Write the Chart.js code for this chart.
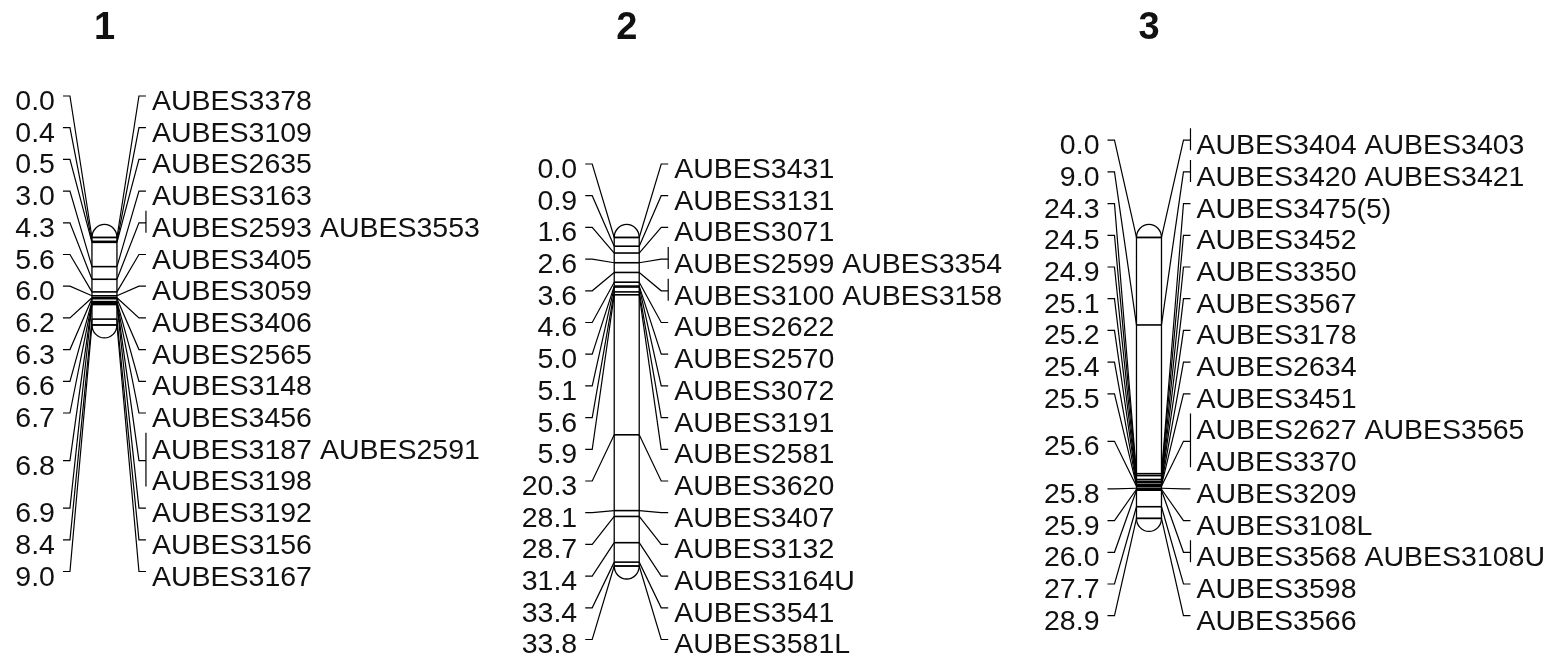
<!DOCTYPE html>
<html>
<head>
<meta charset="utf-8">
<script src="https://cdn.jsdelivr.net/npm/chart.js@4"></script>
<style>
  html, body { margin: 0; padding: 0; background: #fff; }
  canvas { display: block; }
</style>
</head>
<body>
<canvas id="mapChart" width="1560" height="657"></canvas>
<script>
// Linkage group names
const groupNames = ['1', '2', '3'];

// Group 1: locus positions (cM) and markers at each locus
const g1Positions = [0.0, 0.4, 0.5, 3.0, 4.3, 5.6, 6.0, 6.2, 6.3, 6.6, 6.7, 6.8, 6.9, 8.4, 9.0];
const g1Markers = [
    ['AUBES3378'], ['AUBES3109'], ['AUBES2635'], ['AUBES3163'],
    ['AUBES2593', 'AUBES3553'], ['AUBES3405'], ['AUBES3059'], ['AUBES3406'],
    ['AUBES2565'], ['AUBES3148'], ['AUBES3456'],
    ['AUBES3187', 'AUBES2591', 'AUBES3198'],
    ['AUBES3192'], ['AUBES3156'], ['AUBES3167']
];

// Group 2
const g2Positions = [0.0, 0.9, 1.6, 2.6, 3.6, 4.6, 5.0, 5.1, 5.6, 5.9, 20.3, 28.1, 28.7, 31.4, 33.4, 33.8];
const g2Markers = [
    ['AUBES3431'], ['AUBES3131'], ['AUBES3071'], ['AUBES2599', 'AUBES3354'],
    ['AUBES3100', 'AUBES3158'], ['AUBES2622'], ['AUBES2570'], ['AUBES3072'],
    ['AUBES3191'], ['AUBES2581'], ['AUBES3620'], ['AUBES3407'],
    ['AUBES3132'], ['AUBES3164U'], ['AUBES3541'], ['AUBES3581L']
];

// Group 3
const g3Positions = [0.0, 9.0, 24.3, 24.5, 24.9, 25.1, 25.2, 25.4, 25.5, 25.6, 25.8, 25.9, 26.0, 27.7, 28.9];
const g3Markers = [
    ['AUBES3404', 'AUBES3403'], ['AUBES3420', 'AUBES3421'], ['AUBES3475(5)'],
    ['AUBES3452'], ['AUBES3350'], ['AUBES3567'], ['AUBES3178'], ['AUBES2634'],
    ['AUBES3451'], ['AUBES2627', 'AUBES3565', 'AUBES3370'], ['AUBES3209'],
    ['AUBES3108L'], ['AUBES3568', 'AUBES3108U'], ['AUBES3598'], ['AUBES3566']
];

const groups = [
    { name: groupNames[0], positions: g1Positions, markers: g1Markers },
    { name: groupNames[1], positions: g2Positions, markers: g2Markers },
    { name: groupNames[2], positions: g3Positions, markers: g3Markers }
];

// Layout (pixels)
const barWidth = 25;
const capHeight = 13;
const connectorGap = 22;
const tickLen = 7;
const rowGap = 31.7;
const labelTopMin = 96;
const namesPerRow = 2;
const fontFamily = '"Liberation Sans", Arial, sans-serif';

const linkageMapPlugin = {
    id: 'linkageMap',
    afterDraw(chart) {
        const ctx = chart.ctx;
        const xs = chart.scales.x;
        const ys = chart.scales.y;
        ctx.save();
        ctx.strokeStyle = '#000';
        ctx.fillStyle = '#111';

        groups.forEach((g, gi) => {
            const cx = xs.getPixelForValue(gi + 1);
            const left = cx - barWidth / 2;
            const right = cx + barWidth / 2;
            const locY = g.positions.map(p => ys.getPixelForValue(p));
            const top = locY[0];
            const bottom = locY[locY.length - 1];

            // title
            ctx.font = 'bold 38px ' + fontFamily;
            ctx.textAlign = 'center';
            ctx.textBaseline = 'alphabetic';
            ctx.fillText(g.name, cx, 39);

            // pack marker names into label rows
            let n = 0;
            const rows = g.markers.map(names => {
                const r = [];
                for (let i = 0; i < names.length; i += namesPerRow) {
                    r.push({ idx: n++, text: names.slice(i, i + namesPerRow).join(' ') });
                }
                return r;
            });
            const firstRow = Math.max(labelTopMin, (top + bottom) / 2 - (n - 1) * rowGap / 2);
            const rowY = i => firstRow + i * rowGap;

            // chromosome bar
            ctx.lineWidth = 1.3;
            ctx.beginPath();
            ctx.ellipse(cx, top, barWidth / 2, capHeight, 0, Math.PI, 2 * Math.PI);
            ctx.stroke();
            ctx.beginPath();
            ctx.ellipse(cx, bottom, barWidth / 2, capHeight, 0, 0, Math.PI);
            ctx.stroke();
            ctx.strokeRect(left, top, barWidth, bottom - top);

            ctx.font = '28.5px ' + fontFamily;
            const xl = left - connectorGap;
            const xr = right + connectorGap;

            locY.forEach((y, i) => {
                const r = rows[i];
                const y0 = rowY(r[0].idx);
                const y1 = rowY(r[r.length - 1].idx);
                const ly = (y0 + y1) / 2;

                // locus line across the bar
                ctx.lineWidth = 1.6;
                ctx.beginPath();
                ctx.moveTo(left, y);
                ctx.lineTo(right, y);
                ctx.stroke();

                ctx.lineWidth = 1.2;
                ctx.beginPath();
                // left connector
                ctx.moveTo(xl - tickLen, ly);
                ctx.lineTo(xl, ly);
                ctx.lineTo(left, y);
                // right connector
                ctx.moveTo(right, y);
                ctx.lineTo(xr, ly);
                ctx.lineTo(xr + tickLen, ly);
                if (g.markers[i].length > 1) {
                    ctx.moveTo(xr + tickLen, y0 - 12);
                    ctx.lineTo(xr + tickLen, y1 + 10);
                }
                ctx.stroke();

                // position label
                ctx.textAlign = 'right';
                ctx.fillText(g.positions[i].toFixed(1), xl - tickLen - 8, ly + 14);

                // marker labels
                ctx.textAlign = 'left';
                r.forEach(row => ctx.fillText(row.text, xr + tickLen + 6, rowY(row.idx) + 14));
            });
        });
        ctx.restore();
    }
};

new Chart(document.getElementById('mapChart'), {
    type: 'scatter',
    data: {
        datasets: groups.map((g, gi) => ({
            label: 'Group ' + g.name,
            data: g.positions.map(p => ({ x: gi + 1, y: p })),
            pointRadius: 0,
            showLine: false
        }))
    },
    options: {
        responsive: false,
        animation: false,
        layout: { padding: 0 },
        scales: {
            x: { type: 'linear', display: false, min: 0.8, max: 3.787 },
            y: { type: 'linear', display: false, reverse: true, min: -24.43, max: 43.16 }
        },
        plugins: {
            legend: { display: false },
            tooltip: { enabled: false }
        }
    },
    plugins: [linkageMapPlugin]
});
</script>
</body>
</html>
